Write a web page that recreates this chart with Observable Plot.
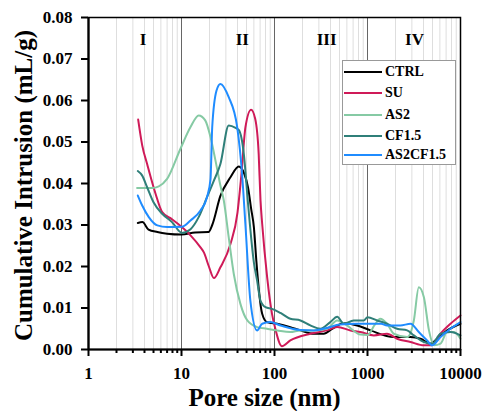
<!DOCTYPE html>
<html><head><meta charset="utf-8">
<script src="https://cdn.jsdelivr.net/npm/d3@7"></script>
<script src="https://cdn.jsdelivr.net/npm/@observablehq/plot@0.6"></script>
<style>
body{margin:0;background:#fff;}
#wrap{position:relative;width:482px;height:411px;}
#legend{position:absolute;left:342px;top:60px;width:114px;height:105px;border:1px solid #999;background:#fff;box-sizing:border-box;font:bold 14px "Liberation Serif","Times New Roman",serif;color:#000;}
.item{position:absolute;left:0;height:20px;display:flex;align-items:center;}
.item span.sw{display:inline-block;width:38px;height:2.5px;margin-left:1px;margin-right:3px;}
</style></head>
<body><div id="wrap"><div id="chart"></div><div id="legend"></div></div>
<script>
const seriesNames = ["CTRL","SU","AS2","CF1.5","AS2CF1.5"];
const seriesColors = ["#000000","#cf1a58","#86caa4","#2f7f79","#1f8cff"];

const ctrlSize  = [3.39,3.8,4.42,5.5,7.0,10,14,19.5,21.4,26.2,33.6,41.3,47,52,56,60,64,68,73.7,83,107,148,190,265,339,417,556,774,1077,1918,2900,3715,4755,5610,7190,10000];
const ctrlValue = [0.0305,0.0307,0.0289,0.0283,0.0279,0.0277,0.0282,0.0283,0.0300,0.0370,0.0415,0.0441,0.0425,0.0390,0.0340,0.0295,0.0210,0.0142,0.0086,0.0066,0.0062,0.0054,0.0046,0.0038,0.0038,0.0050,0.0063,0.0058,0.0046,0.0030,0.0030,0.0026,0.0014,0.0026,0.0046,0.0062];

const suSize  = [3.42,3.78,4.27,5.25,6.2,7.9,10.1,12.5,16,17.4,19.7,22.3,26.2,33.6,40,44,48.7,56,62,67.6,70.7,73.7,83.4,94,101,120,148,243,366,472,657,840,1169,1622,2080,2900,4040,4940,6100,7800,10000];
const suValue = [0.0554,0.0492,0.0447,0.0376,0.0331,0.0314,0.0295,0.0275,0.0246,0.0234,0.0200,0.0172,0.0198,0.0254,0.0330,0.0420,0.0536,0.0578,0.0556,0.0471,0.0360,0.0303,0.0174,0.0086,0.0054,0.0008,0.0022,0.0038,0.0046,0.0054,0.0046,0.0042,0.0034,0.0038,0.0026,0.0018,0.0010,0.0010,0.0038,0.0062,0.0082];

const as2Size  = [3.33,4.83,5.7,7.0,9.8,12.5,15.3,18,20.5,23.2,26.2,28.5,32.2,36.5,43,51,65,83,107,148,190,265,366,472,600,840,1000,1200,1370,1622,1918,2670,3150,3560,4040,4580,5200,6100,7190,8480,10000];
const as2Value = [0.0389,0.0389,0.0393,0.0411,0.0485,0.0536,0.0564,0.0552,0.0512,0.0455,0.0395,0.0359,0.0270,0.0182,0.0110,0.0070,0.0054,0.0050,0.0046,0.0042,0.0046,0.0046,0.0050,0.0070,0.0058,0.0036,0.0035,0.0060,0.0074,0.0062,0.0038,0.0030,0.0070,0.0150,0.0126,0.0046,0.0010,0.0014,0.0042,0.0042,0.0026];

const cfSize  = [3.39,3.78,4.27,5.0,6.2,7.9,10.1,12.5,15.3,18.8,22.3,26.2,32.2,38.2,41.6,46.8,52,60,65,70.6,80,94,116,148,190,243,311,398,472,556,710,910,1000,1270,1622,2080,2670,3150,4040,4940,6100,7800,10000];
const cfValue = [0.0430,0.0419,0.0391,0.0355,0.0327,0.0307,0.0281,0.0290,0.0319,0.0367,0.0407,0.0447,0.0540,0.0534,0.0528,0.0471,0.0350,0.0210,0.0166,0.0118,0.0102,0.0098,0.0088,0.0074,0.0070,0.0058,0.0050,0.0066,0.0079,0.0062,0.0070,0.0070,0.0078,0.0070,0.0062,0.0050,0.0046,0.0034,0.0018,0.0014,0.0038,0.0042,0.0034];

const ascfSize  = [3.39,3.78,4.45,5.5,7.0,10.1,12.5,16,18.8,20.5,21.4,23.8,26.2,32.2,39.7,44.8,48.7,55,65,73.7,90,116,190,265,366,506,774,1077,1400,1622,2250,2900,3560,4370,4940,6100,7800,10000];
const ascfValue = [0.0371,0.0347,0.0319,0.0299,0.0295,0.0296,0.0311,0.0335,0.0367,0.0410,0.0536,0.0624,0.0640,0.0608,0.0536,0.0423,0.0300,0.0118,0.0046,0.0062,0.0066,0.0058,0.0047,0.0046,0.0052,0.0060,0.0062,0.0062,0.0062,0.0058,0.0058,0.0062,0.0042,0.0022,0.0010,0.0030,0.0050,0.0066];

const xMajorTicks = [1,10,100,1000,10000];
const yTicks = [0,0.01,0.02,0.03,0.04,0.05,0.06,0.07,0.08];
const regionNames = ["I","II","III","IV"];
const regionSizes = [3.87,45,363,3200];
const regionLevel = 0.0747;
const xLabel = "Pore size (nm)";
const yLabel = "Cumulative Intrusion (mL/g)";

const minorTicks = [];
for (const base of [1,10,100,1000]) for (let k=2;k<=9;k++) minorTicks.push(base*k);

const sizes = [ctrlSize,suSize,as2Size,cfSize,ascfSize];
const values = [ctrlValue,suValue,as2Value,cfValue,ascfValue];
const data = [];
seriesNames.forEach((s,i)=>sizes[i].forEach((d,j)=>data.push({series:s,size:d,value:values[i][j]})));
const regions = regionNames.map((r,i)=>({label:r,x:regionSizes[i],y:regionLevel}));

const font = '"Liberation Serif", "Times New Roman", serif';
const chart = Plot.plot({
  width:482, height:411,
  marginLeft:88, marginRight:22, marginTop:17, marginBottom:62,
  x:{type:"log", domain:[1,10000]},
  y:{domain:[0,0.08]},
  color:{domain:seriesNames, range:seriesColors},
  style:{fontFamily:font, fontWeight:"bold", fontSize:"17px", color:"#000", background:"#fff", overflow:"visible"},
  marks:[
    Plot.ruleX(minorTicks,{stroke:"#dedede", strokeWidth:1}),
    Plot.ruleX([10,100,1000],{stroke:"#666", strokeWidth:1}),
    Plot.line(data,{x:"size", y:"value", z:"series", stroke:"series", strokeWidth:2, curve:"monotone-x"}),
    Plot.frame({stroke:"#000", strokeWidth:1.5}),
    Plot.ruleX([1],{stroke:"#000", strokeWidth:2.2}),
    Plot.ruleY([0],{stroke:"#000", strokeWidth:2.2}),
    Plot.axisY({ticks:yTicks, tickFormat:d3.format(".2f"), tickSize:7, tickPadding:9, strokeWidth:2, label:null}),
    Plot.axisX({ticks:minorTicks, tickFormat:()=> "", tickSize:4, strokeWidth:2, label:null}),
    Plot.axisX({ticks:xMajorTicks, tickFormat:d=>String(d), tickSize:7, tickPadding:10, strokeWidth:2, label:null}),
    Plot.text(regions,{x:"x", y:"y", text:"label", fontSize:17, fontWeight:"bold"}),
    Plot.text([yLabel],{text:d=>d, frameAnchor:"left", textAnchor:"middle", rotate:-90, dx:-57, dy:2, lineAnchor:"bottom", fontSize:25, fontWeight:"bold"}),
    Plot.text([xLabel],{text:d=>d, frameAnchor:"bottom", textAnchor:"middle", dx:-10, dy:48, lineAnchor:"middle", fontSize:25, fontWeight:"bold"})
  ]
});
document.getElementById("chart").appendChild(chart);

const legend = document.getElementById("legend");
const rowsY = [1,22,44,65,84];
seriesNames.forEach((s,i)=>{
  const row = document.createElement("div");
  row.className = "item";
  row.style.top = rowsY[i] + "px";
  row.innerHTML = `<span class="sw" style="background:${seriesColors[i]}"></span><span>${s}</span>`;
  legend.appendChild(row);
});
</script>
</body></html>
